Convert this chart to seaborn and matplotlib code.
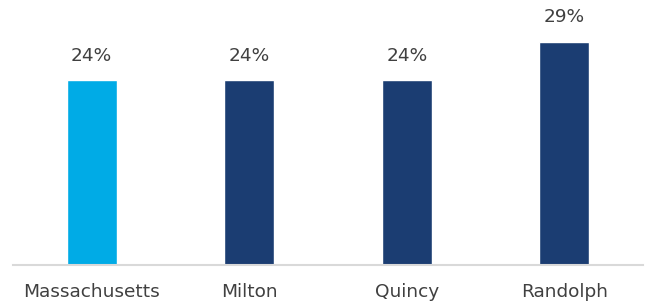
import matplotlib
matplotlib.use("Agg")
import matplotlib.pyplot as plt
import seaborn as sns
import pandas as pd

categories = ["Massachusetts", "Milton", "Quincy", "Randolph"]
values = [24, 24, 24, 29]
labels = ["24%", "24%", "24%", "29%"]
colors = ["#00ABE6", "#1B3D72", "#1B3D72", "#1B3D72"]

sns.set_style("white")
plt.rcParams["font.family"] = ["DejaVu Sans"]

df = pd.DataFrame({"cat": categories, "val": values})

fig = plt.figure(figsize=(6.46, 3.01), dpi=100)
ax = fig.add_axes([13/646, 36/301, 630/646, 265/301])
sns.barplot(data=df, x="cat", y="val", hue="cat", palette=colors, legend=False,
            width=0.32, ax=ax, saturation=1)
ax.set_xlim(-0.5, 3.5)
ax.set_ylim(0, 34.4)
for i, (v, t) in enumerate(zip(values, labels)):
    ax.annotate(t, (i, v), xytext=(0, 11), textcoords="offset points",
                ha="center", va="bottom", fontsize=13.3, color="#404040")
for s in ["top", "right", "left"]:
    ax.spines[s].set_visible(False)
ax.spines["bottom"].set_color("#D9D9D9")
ax.spines["bottom"].set_linewidth(1.5)
ax.set_yticks([])
ax.set_xlabel("")
ax.set_ylabel("")
ax.tick_params(axis="x", length=0, pad=13, labelsize=13.3, labelcolor="#404040")
fig.savefig("out.png", dpi=100)
